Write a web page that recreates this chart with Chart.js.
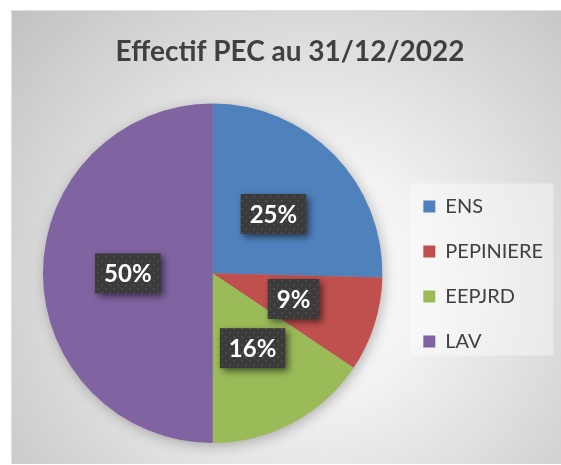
<!DOCTYPE html>
<html>
<head>
<meta charset="utf-8">
<script src="https://cdn.jsdelivr.net/npm/chart.js@4.4.1/dist/chart.umd.min.js"></script>
<style>
  body { margin: 0; background: #fff; }
  #wrap { position: absolute; left: 11px; top: 10px; width: 550px; height: 453px;
          border-top: 1px solid #e0e0e0; border-left: 1px solid #e0e0e0; box-sizing: border-box; }
  #myChart { position: absolute; left: 0; top: 0; }
</style>
</head>
<body>
<div id="wrap"><canvas id="myChart" width="550" height="453"></canvas></div>
<script>
// données
const labels = ["ENS", "PEPINIERE", "EEPJRD", "LAV"];
const effectif = [25.4, 9.0, 15.6, 50.0]; // parts en %
const colors = ["#4F81BD", "#C0504D", "#9BBB59", "#8064A2"];
const titre = "Effectif PEC au 31/12/2022";

const ctxChart = document.getElementById("myChart").getContext("2d");

// petit motif pointillé pour les étiquettes
const patCanvas = document.createElement("canvas");
patCanvas.width = 8;
patCanvas.height = 8;
const pc = patCanvas.getContext("2d");
pc.fillStyle = "#3b3b3b";
pc.fillRect(0, 0, 8, 8);
pc.fillStyle = "#4b4b4b";
pc.fillRect(1, 1, 2, 2);
pc.fillRect(5, 5, 2, 2);

// fond dégradé + cadre de la légende
const backgroundPlugin = {
  id: "bg",
  beforeDraw(chart) {
    const c = chart.ctx;
    const g = c.createRadialGradient(300, 270, 0, 300, 270, 400);
    g.addColorStop(0, "#ffffff");
    g.addColorStop(0.3, "#f2f2f2");
    g.addColorStop(1, "#c2c2c2");
    c.save();
    c.fillStyle = g;
    c.fillRect(0, 0, chart.width, chart.height);
    const hb = chart.legend.legendHitBoxes;
    if (hb && hb.length) {
      const last = hb[hb.length - 1];
      const left = hb[0].left - 13;
      const top = hb[0].top - 13;
      const bottom = last.top + last.height + 4;
      c.fillStyle = "rgba(255,255,255,0.4)";
      c.fillRect(left, top, 143, bottom - top);
    }
    c.restore();
  },
  beforeDatasetsDraw(chart) {
    // ombre douce sous le camembert
    const arc = chart.getDatasetMeta(0).data[0];
    if (!arc) return;
    const c = chart.ctx;
    c.save();
    c.shadowColor = "rgba(0,0,0,0.3)";
    c.shadowBlur = 14;
    c.shadowOffsetX = 2;
    c.shadowOffsetY = 3;
    c.fillStyle = "#999";
    c.beginPath();
    c.arc(arc.x, arc.y, arc.outerRadius - 1, 0, Math.PI * 2);
    c.fill();
    c.restore();
  },
};

// étiquettes en pourcentage
const labelPlugin = {
  id: "pctLabels",
  afterDatasetsDraw(chart) {
    const c = chart.ctx;
    const data = chart.data.datasets[0].data;
    const total = data.reduce((a, b) => a + b, 0);
    chart.getDatasetMeta(0).data.forEach((arc, i) => {
      const p = arc.getCenterPoint();
      const txt = Math.round((data[i] / total) * 100) + "%";
      c.save();
      c.font = "bold 24px Lato";
      const w = c.measureText(txt).width + 18;
      const h = 40;
      c.shadowColor = "rgba(0,0,0,0.55)";
      c.shadowBlur = 7;
      c.shadowOffsetX = 3;
      c.shadowOffsetY = 3;
      c.fillStyle = c.createPattern(patCanvas, "repeat");
      c.fillRect(p.x - w / 2, p.y - h / 2, w, h);
      c.shadowColor = "transparent";
      c.fillStyle = "#ffffff";
      c.textAlign = "center";
      c.textBaseline = "middle";
      c.fillText(txt, p.x, p.y + 1);
      c.restore();
    });
  },
};

const pieChart = new Chart(ctxChart, {
  type: "pie",
  data: {
    labels: labels,
    datasets: [
      {
        data: effectif,
        backgroundColor: colors,
        borderWidth: 0,
      },
    ],
  },
  options: {
    responsive: false,
    animation: false,
    layout: {
      padding: { left: 15, right: 9, top: 0, bottom: 21 },
    },
    plugins: {
      title: {
        display: true,
        text: titre,
        color: "#404040",
        font: { family: "Lato", size: 28, weight: "bold" },
        padding: { top: 24, bottom: 35 },
      },
      legend: {
        display: true,
        position: "right",
        title: {
          display: true,
          text: " ",
          font: { size: 10 },
          padding: { top: 82, bottom: 0 },
        },
        labels: {
          boxWidth: 12,
          boxHeight: 12,
          padding: 25,
          color: "#404040",
          font: { family: "Lato", size: 20 },
        },
      },
      tooltip: { enabled: false },
    },
  },
  plugins: [backgroundPlugin, labelPlugin],
});
</script>
</body>
</html>
